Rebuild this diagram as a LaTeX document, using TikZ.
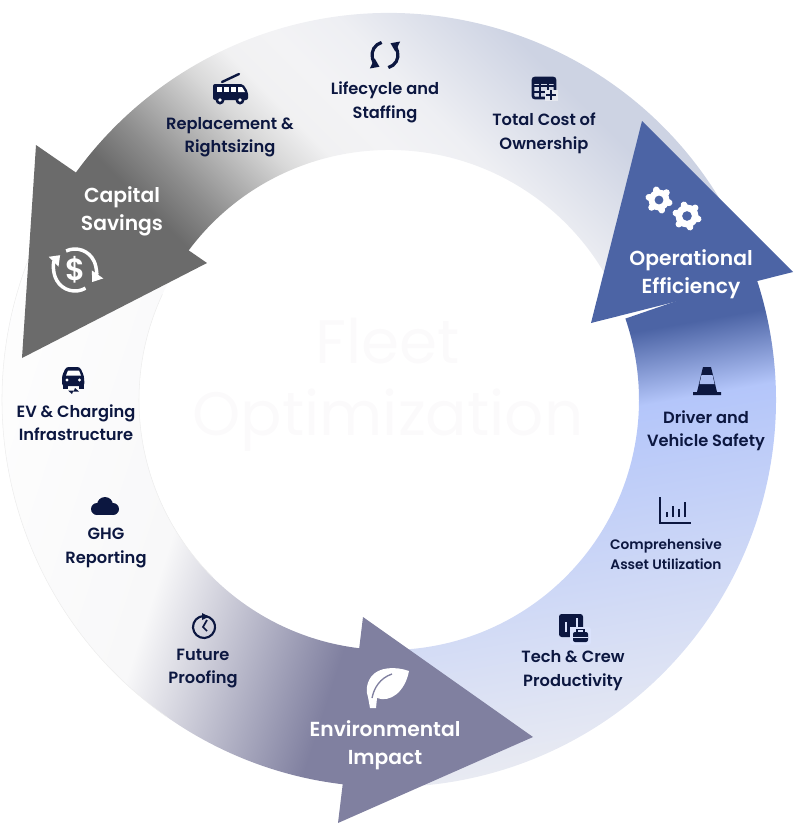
\documentclass[tikz,border=0pt]{standalone}
\usepackage{fontspec}
\setmainfont{Poppins}[BoldFont=* SemiBold]
\usepackage{xcolor}
\usetikzlibrary{arrows.meta}

\definecolor{navy}{HTML}{0C1740}
\definecolor{capgrey}{HTML}{6B6B6B}
\definecolor{opsblue}{HTML}{4C64A5}
\definecolor{envmauve}{HTML}{8080A0}
\definecolor{skyblue}{HTML}{B4C6FA}
\definecolor{titleink}{HTML}{FBFAFB}
\definecolor{tablebg}{HTML}{E6E8EF}

\pgfdeclarehorizontalshading{topfade}{100bp}{
  rgb(0bp)=(.42,.42,.42); rgb(29.4bp)=(.42,.42,.42);
  rgb(33.8bp)=(.55,.55,.55); rgb(38.2bp)=(.70,.70,.70);
  rgb(42.6bp)=(.85,.85,.85); rgb(46.7bp)=(.945,.945,.95); rgb(51.5bp)=(.953,.953,.961);
  rgb(57.3bp)=(.933,.937,.953); rgb(69.1bp)=(.804,.827,.890); rgb(100bp)=(.804,.827,.890)}
\pgfdeclarehorizontalshading{bluefade}{100bp}{
  rgb(0bp)=(.298,.392,.647); rgb(32.9bp)=(.298,.392,.647);
  rgb(39.6bp)=(.706,.776,.980); rgb(70.3bp)=(.91,.918,.949); rgb(100bp)=(.91,.918,.949)}
\pgfdeclarehorizontalshading{envfade}{100bp}{
  rgb(0bp)=(.995,.995,.995); rgb(25bp)=(.995,.995,.995); rgb(45.9bp)=(.972,.972,.976);
  rgb(63.9bp)=(.502,.502,.627); rgb(100bp)=(.502,.502,.627)}

\def\rout{387}
\def\rin{250}
\newcommand{\ringband}[2]{(#1:\rout) arc[start angle=#1,end angle=#2,radius=\rout] -- (#2:\rin) arc[start angle=#2,end angle=#1,radius=\rin] -- cycle}
\newcommand{\gearicon}[3]{%
  \foreach \a in {0,60,...,300} \draw[white,line width=5pt,line cap=round] (#1,#2) -- ++(\a+15:#3);
  \fill[white] (#1,#2) circle (#3);
  \fill[opsblue] (#1,#2) circle (#3*.42);}

\tikzset{
  lbl/.style={text=navy,font=\bfseries\fontsize{12.2}{17.6}\selectfont,align=center,inner sep=0pt},
  small lbl/.style={lbl,font=\bfseries\fontsize{10.3}{15}\selectfont},
  head lbl/.style={text=white,font=\bfseries\fontsize{15.2}{21}\selectfont,align=center,inner sep=0pt}
}

\begin{document}
\begin{tikzpicture}[x=.75pt,y=-.75pt]
  \path[use as bounding box] (0,0) rectangle (800,832);

  % ring pieces
  \begin{scope}
    \clip[shift={(389,400)}] \ringband{-19}{90};
    \begin{scope}[transform canvas={shift={(60.8,344.7)},rotate=-80}]
      \shade[shading=bluefade] (0,-1500) rectangle (550,1500);
    \end{scope}
  \end{scope}
  \begin{scope}
    \clip[shift={(389,400)}] \ringband{88}{210};
    \begin{scope}[transform canvas={shift={(95,31)},rotate=-18}]
      \shade[shading=envfade] (0,-1500) rectangle (550,1500);
    \end{scope}
  \end{scope}
  \draw[shift={(389,400)},black!7,line width=.4pt] (125:\rout) arc[start angle=125,end angle=205,radius=\rout];
  \draw[shift={(389,400)},black!7,line width=.4pt] (135:\rin) arc[start angle=135,end angle=205,radius=\rin];
  \begin{scope}
    \clip[shift={(389,400)}] \ringband{-25}{-148};
    \begin{scope}[transform canvas={shift={(100,220)},rotate=45}]
      \shade[shading=topfade] (0,-1500) rectangle (481,1500);
    \end{scope}
  \end{scope}

  % arrow heads
  \fill[capgrey] (36,145) -- (207,263) -- (22,358) -- cycle;
  \fill[opsblue] (642,121) -- (793,272) -- (591,323) -- cycle;
  \fill[envmauve] (363,617) -- (533,737) -- (338,823) -- cycle;

  % watermark
  \node[text=titleink,font=\fontsize{46}{54}\selectfont,align=center,inner sep=0pt] (title) at (388,385) {Fleet\\Optimization};

  % head labels
  \node[head lbl] (capital) at (122,211) {Capital\\Savings};
  \node[head lbl] (operational) at (691,274.5) {Operational\\Efficiency};
  \node[head lbl] (environmental) at (385,745.5) {Environmental\\Impact};

  % item labels
  \node[lbl] (replacement) at (230,137) {Replacement \&\\Rightsizing};
  \node[lbl] (lifecycle) at (385,102.5) {Lifecycle and\\Staffing};
  \node[lbl] (totalcost) at (544,133.5) {Total Cost of\\Ownership};
  \node[lbl] (driver) at (706,431) {Driver and\\Vehicle Safety};
  \node[small lbl] (asset) at (666,554.5) {Comprehensive\\Asset Utilization};
  \node[lbl] (tech) at (573,670.5) {Tech \& Crew\\Productivity};
  \node[lbl] (future) at (203,668.5) {Future\\Proofing};
  \node[lbl] (ghg) at (106,548) {GHG\\Reporting};
  \node[lbl] (ev) at (76,422.5) {EV \& Charging\\Infrastructure};

  % bus
  \draw[navy,line width=1.8pt,line cap=round] (222,82) -- (239,74);
  \fill[navy,rounded corners=1.5pt] (213,84) -- (243,84) -- (248,92) -- (248,100) -- (213,100) -- cycle;
  \fill[white] (217,87) rectangle (222,92);
  \fill[white] (224,87) rectangle (229,92);
  \fill[white] (231,87) rectangle (236,92);
  \fill[white] (238,87) -- (242,87) -- (245,92) -- (238,92) -- cycle;
  \fill[navy] (220,100) circle (4.5);
  \fill[navy] (240,100) circle (4.5);
  \fill[white] (220,100) circle (1.8);
  \fill[white] (240,100) circle (1.8);

  % lifecycle arrows
  \draw[navy,line width=2.4pt,-{Triangle[width=8pt,length=6pt]}] (385,55) ++(-105:13) arc[start angle=-105,end angle=-245,radius=13];
  \draw[navy,line width=2.4pt,-{Triangle[width=8pt,length=6pt]}] (385,55) ++(75:13) arc[start angle=75,end angle=-65,radius=13];

  % table with plus
  \draw[navy,line width=2pt,rounded corners=1.5pt] (533,78) rectangle (555,98);
  \fill[navy] (533,78) rectangle (555,84);
  \draw[navy,line width=1.5pt] (533,86) -- (555,86) (533,92) -- (547,92) (540,84) -- (540,98) (548,84) -- (548,92);
  \fill[tablebg] (545,90) rectangle (558,101);
  \draw[navy,line width=1.8pt] (545.5,95) -- (556,95) (551,90) -- (551,100);

  % gears
  \gearicon{659}{200}{10.5}
  \gearicon{687}{216}{11.5}

  % dollar cycle
  \draw[white,line width=2.6pt,-{Triangle[width=10pt,length=7pt]}] (75,270) ++(60:21) arc[start angle=60,end angle=225,radius=21];
  \draw[white,line width=2.6pt,-{Triangle[width=10pt,length=7pt]}] (75,270) ++(-115:21) arc[start angle=-115,end angle=35,radius=21];
  \node[text=white,font=\bfseries\fontsize{23}{23}\selectfont,inner sep=0pt] (dollar) at (75.5,270) {\$};

  % cone
  \fill[navy] (703,367) -- (711,367) -- (717,392) -- (721,392) -- (721,395) -- (693,395) -- (693,392) -- (697,392) -- cycle;
  \fill[skyblue!90!opsblue] (701.5,375) -- (712.5,375) -- (714.5,384) -- (699.5,384) -- cycle;

  % bar chart
  \draw[navy,line width=1.9pt] (660,497) -- (660,523) -- (691,523);
  \draw[navy,line width=1.9pt] (667,517) -- (667,512) (673,517) -- (673,506) (679,517) -- (679,509) (685,517) -- (685,502);

  % tech and crew
  \fill[navy,rounded corners=2pt] (559,614) rectangle (583,637);
  \draw[skyblue!50!white,line width=1.4pt] (566,632) -- (566,622) (571,632) -- (571,627) (577,630) -- (577,618);
  \fill[skyblue!50!white,rounded corners=2pt] (570,627) rectangle (591,645);
  \draw[navy,line width=1.2pt] (577,632) -- (577,629.5) -- (584,629.5) -- (584,632);
  \fill[navy,rounded corners=1.5pt] (573,632) rectangle (588,642);
  \fill[skyblue!50!white] (573,636.5) rectangle (588,637.5);

  % leaf
  \fill[white] (409,671) .. controls (395,666) and (378,667) .. (371,677) .. controls (366,684) and (366,692) .. (368,697)
    -- (370,708) -- (376,708) -- (377,698) .. controls (390,703) and (405,692) .. cycle;
  \draw[envmauve,line width=1pt] (372,698) .. controls (374,688) and (380,678) .. (392,674);

  % clock
  \draw[navy,line width=1.6pt] (204,627) ++(-70:11) arc[start angle=-70,end angle=-440,radius=11];
  \fill[navy] (202,613) -- (209,616.5) -- (202,620) -- cycle;
  \draw[navy,line width=1.3pt] (207,620) -- (203,627) -- (207,631);

  % cloud
  \fill[navy] (105,505) circle (8);
  \fill[navy] (97,509) circle (6);
  \fill[navy] (113,509) circle (6);
  \fill[navy] (97,509) rectangle (113,515);

  % car
  \fill[navy,rounded corners=2pt] (66,367) -- (80,367) -- (84,376) -- (84.5,386) -- (62,386) -- (62,376) -- cycle;
  \fill[navy] (63,384) rectangle (68,389);
  \fill[navy] (79,384) rectangle (84,389);
  \fill[white] (68,370.5) -- (79,370.5) -- (81,375.5) -- (66,375.5) -- cycle;
  \fill[white] (67,380) circle (1.7);
  \fill[white] (79.5,380) circle (1.7);
  \fill[navy] (68,390.5) -- (74,390.5) -- (75,388) -- (79,391.5) -- (73,391.5) -- (72,394) -- cycle;
\end{tikzpicture}
\end{document}
